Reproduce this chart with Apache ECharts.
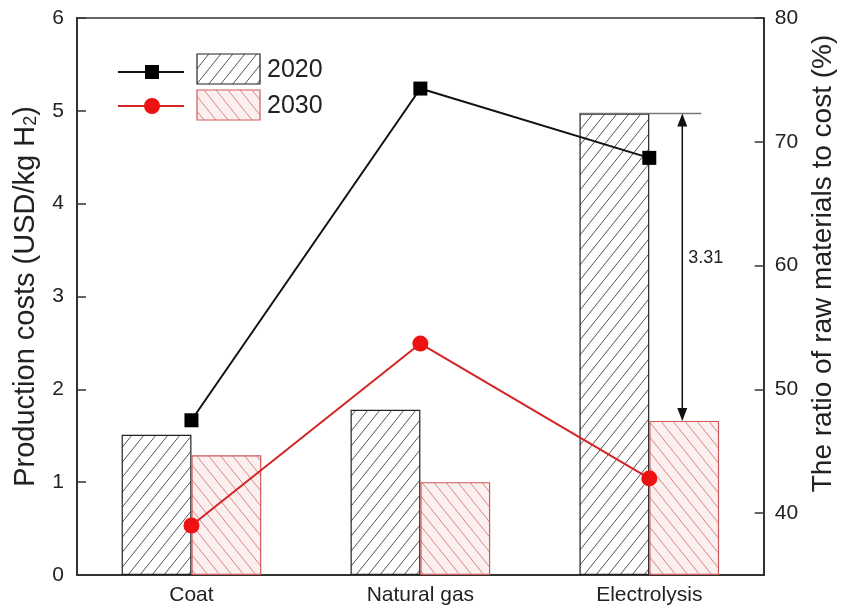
<!DOCTYPE html>
<html>
<head>
<meta charset="utf-8">
<script src="https://cdn.jsdelivr.net/npm/echarts@6/dist/echarts.min.js"></script>
<style>
html,body{margin:0;padding:0;background:#fff;}
#chart{width:845px;height:614px;}
</style>
</head>
<body>
<div id="chart"></div>
<script>
// ---- data ----
const categories = ['Coat', 'Natural gas', 'Electrolysis'];
const cost2020 = [1.51, 1.78, 4.97];
const cost2030 = [1.29, 1.00, 1.66];
const ratio2020 = [47.5, 74.3, 68.7];
const ratio2030 = [39.0, 53.7, 42.8];
const rightTicks = [40, 50, 60, 70, 80];
const seriesNames = ['2020', '2030'];
const diffLabel = '3.31';

const FONT = '"Liberation Sans", Arial, Helvetica, sans-serif';

function hatch(w, h, dir, bg, fg, lw) {
  const c = document.createElement('canvas');
  c.width = w; c.height = h;
  const ctx = c.getContext('2d');
  ctx.fillStyle = bg; ctx.fillRect(0, 0, w, h);
  ctx.strokeStyle = fg; ctx.lineWidth = lw;
  ctx.beginPath();
  if (dir === '/') {
    for (const k of [-1, 0, 1]) {
      ctx.moveTo(k * w - 1, h + h / w);
      ctx.lineTo(k * w + w + 1, -h / w);
    }
  } else {
    for (const k of [-1, 0, 1]) {
      ctx.moveTo(k * w - 1, -h / w);
      ctx.lineTo(k * w + w + 1, h + h / w);
    }
  }
  ctx.stroke();
  return c;
}
const pat2020 = { image: hatch(12, 15, '/', '#ffffff', '#555555', 1), repeat: 'repeat' };
const pat2030 = { image: hatch(12, 15, '\\', '#fcefef', '#d98585', 1), repeat: 'repeat' };

const chart = echarts.init(document.getElementById('chart'), null, { renderer: 'canvas' });

const option = {
  backgroundColor: '#ffffff',
  animation: false,
  grid: { left: 77, right: 77, top: 18, bottom: 39, show: true, borderColor: '#333', borderWidth: 1.5, backgroundColor: 'transparent' },
  xAxis: {
    type: 'category', data: categories,
    axisLine: { lineStyle: { color: '#333', width: 2 } },
    axisTick: { show: false },
    axisLabel: { color: '#222', fontSize: 21, fontFamily: FONT, margin: 10 }
  },
  yAxis: [
    {
      type: 'value', min: 0, max: 6, interval: 1, position: 'left',
      name: 'Production costs (USD/kg H{sub|2})',
      nameLocation: 'middle', nameRotate: 90, nameGap: 37,
      nameTextStyle: { color: '#222', fontSize: 29, fontFamily: FONT,
        rich: { sub: { fontSize: 18, fontFamily: FONT, color: '#222', verticalAlign: 'bottom', padding: [10, 0, 0, 0] } } },
      axisLine: { show: true, lineStyle: { color: '#333', width: 2 } },
      axisTick: { show: true, inside: true, length: 9, lineStyle: { color: '#333', width: 1.5 } },
      axisLabel: { color: '#222', fontSize: 21, fontFamily: FONT, margin: 13 },
      splitLine: { show: false }
    },
    {
      type: 'value', min: 35, max: 80, position: 'right',
      name: 'The ratio of raw materials to cost (%)',
      nameLocation: 'middle', nameRotate: 90, nameGap: 42,
      nameTextStyle: { color: '#222', fontSize: 28, fontFamily: FONT, padding: [0, 0, 0, 66] },
      axisLine: { show: true, lineStyle: { color: '#333', width: 2 } },
      axisTick: { show: true, inside: true, length: 9, customValues: rightTicks, lineStyle: { color: '#333', width: 1.5 } },
      axisLabel: { color: '#222', fontSize: 21, fontFamily: FONT, margin: 11, customValues: rightTicks },
      splitLine: { show: false }
    }
  ],
  series: [
    {
      name: seriesNames[0] + ' cost', type: 'bar', data: cost2020, yAxisIndex: 0,
      barGap: '0%', barCategoryGap: '39%', z: 2,
      itemStyle: { color: pat2020, borderColor: '#222', borderWidth: 1.2 }
    },
    {
      name: seriesNames[1] + ' cost', type: 'bar', data: cost2030, yAxisIndex: 0,
      barGap: '0%', barCategoryGap: '39%', z: 2,
      itemStyle: { color: pat2030, borderColor: '#d05a5a', borderWidth: 1.2 }
    },
    {
      name: seriesNames[0] + ' ratio', type: 'line', data: ratio2020, yAxisIndex: 1, z: 5,
      symbol: 'rect', symbolSize: 14,
      lineStyle: { color: '#111', width: 2 },
      itemStyle: { color: '#000' }
    },
    {
      name: seriesNames[1] + ' ratio', type: 'line', data: ratio2030, yAxisIndex: 1, z: 5,
      symbol: 'circle', symbolSize: 16,
      lineStyle: { color: '#d42424', width: 2 },
      itemStyle: { color: '#ee1111' }
    }
  ]
};
chart.setOption(option);

// ---- annotations & legend (positions derived from the axes) ----
const idx = 2; // Electrolysis
const pTop = chart.convertToPixel({ xAxisIndex: 0, yAxisIndex: 0 }, [idx, cost2020[idx]]);
const pBot = chart.convertToPixel({ xAxisIndex: 0, yAxisIndex: 0 }, [idx, cost2030[idx]]);
const cx = pTop[0];
const barW = 70;
const ax = cx + 33;
const ah = 13, aw = 5;

const graphics = [
  { type: 'line', shape: { x1: cx - barW, y1: pTop[1], x2: cx + 52, y2: pTop[1] }, style: { stroke: '#777', lineWidth: 1.5 }, z: 10 },
  { type: 'line', shape: { x1: ax, y1: pTop[1] + 4, x2: ax, y2: pBot[1] - 4 }, style: { stroke: '#111', lineWidth: 1.5 }, z: 10 },
  { type: 'polygon', shape: { points: [[ax, pTop[1]], [ax - aw, pTop[1] + ah], [ax + aw, pTop[1] + ah]] }, style: { fill: '#111' }, z: 10 },
  { type: 'polygon', shape: { points: [[ax, pBot[1]], [ax - aw, pBot[1] - ah], [ax + aw, pBot[1] - ah]] }, style: { fill: '#111' }, z: 10 },
  { type: 'text', x: ax + 6, y: (pTop[1] + pBot[1]) / 2 - 9, style: { text: diffLabel, font: '18px ' + FONT, fill: '#222', verticalAlign: 'middle', align: 'left' }, z: 10 },
  // legend
  { type: 'line', shape: { x1: 118, y1: 72, x2: 184, y2: 72 }, style: { stroke: '#111', lineWidth: 2 }, z: 10 },
  { type: 'rect', shape: { x: 145, y: 65, width: 14, height: 14 }, style: { fill: '#000' }, z: 11 },
  { type: 'line', shape: { x1: 118, y1: 106, x2: 184, y2: 106 }, style: { stroke: '#d42424', lineWidth: 2 }, z: 10 },
  { type: 'circle', shape: { cx: 152, cy: 106, r: 8 }, style: { fill: '#ee1111' }, z: 11 },
  { type: 'rect', shape: { x: 197, y: 54, width: 63, height: 30 }, style: { fill: pat2020, stroke: '#222', lineWidth: 1.2 }, z: 10 },
  { type: 'rect', shape: { x: 197, y: 90, width: 63, height: 30 }, style: { fill: pat2030, stroke: '#d05a5a', lineWidth: 1.2 }, z: 10 },
  { type: 'text', x: 267, y: 70, style: { text: seriesNames[0], font: '25px ' + FONT, fill: '#222', verticalAlign: 'middle' }, z: 10 },
  { type: 'text', x: 267, y: 106, style: { text: seriesNames[1], font: '25px ' + FONT, fill: '#222', verticalAlign: 'middle' }, z: 10 }
];
chart.setOption({ graphic: graphics });
</script>
</body>
</html>
